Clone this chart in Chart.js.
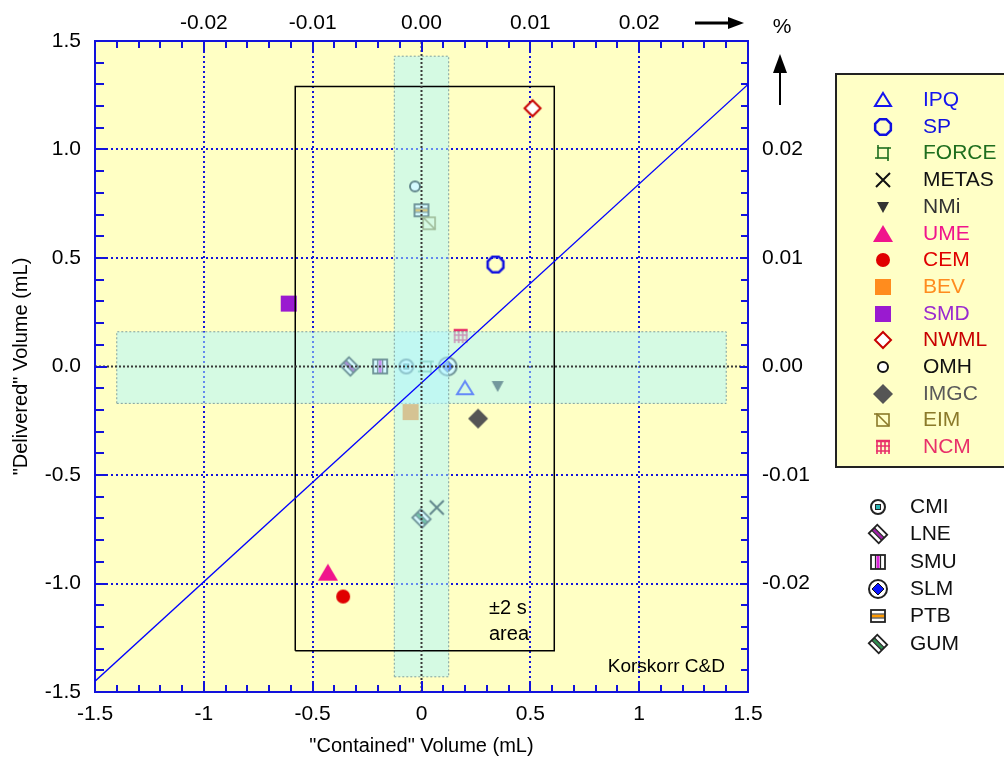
<!DOCTYPE html>
<html>
<head>
<meta charset="utf-8">
<title>Contained vs delivered volume</title>
<script src="https://cdn.jsdelivr.net/npm/chart.js@4.4.1/dist/chart.umd.min.js"></script>
<style>
  html, body { margin: 0; padding: 0; background: #fff; overflow: hidden; }
  #wrap { position: relative; width: 1004px; height: 760px; overflow: hidden; }
  #legendBox { position: absolute; left: 835px; top: 73px; width: 220px; height: 395px;
               background: #ffffc6; border: 2px solid #222; box-sizing: border-box; }
  .item { position: absolute; height: 26px; line-height: 26px; white-space: nowrap;
          font: 21px "Liberation Sans", Arial, Helvetica, sans-serif; }
  .mark { position: absolute; }
</style>
</head>
<body>
<div id="wrap">
  <canvas id="volumeChart" width="1004" height="760"></canvas>
  <div id="legendBox"></div>
</div>
<script>
// Deviation of each laboratory from the reference value, in mL
const labs = ['IPQ', 'SP', 'FORCE', 'METAS', 'NMi', 'UME', 'CEM', 'BEV', 'SMD', 'NWML', 'OMH', 'IMGC', 'EIM', 'NCM',
              'CMI', 'LNE', 'SMU', 'SLM', 'PTB', 'GUM'];
const containedVol = [0.20, 0.34, 0.02, 0.07, 0.35, -0.43, -0.36, -0.05, -0.61, 0.51, -0.03, 0.26, 0.035, 0.18,
                      -0.07, -0.33, -0.19, 0.12, 0.00, 0.00];
const deliveredVol = [-0.10, 0.47, 0.00, -0.65, -0.09, -0.95, -1.06, -0.21, 0.29, 1.19, 0.83, -0.24, 0.66, 0.14,
                      0.00, 0.00, 0.00, 0.00, 0.72, -0.70];

// uncertainty bands, the ±2 s box and the fitted line (mL)
const bandContainedX = [-0.125, 0.125];
const bandContainedY = [-1.43, 1.43];
const bandDeliveredX = [-1.40, 1.40];
const bandDeliveredY = [-0.17, 0.16];
const boxX = [-0.58, 0.61];
const boxY = [-1.31, 1.29];
const fitX = [-1.5, 1.5];
const fitY = [-1.45, 1.30];

// axis ticks: mL on bottom/left, percent of the 5 L nominal volume on top/right
const nominalVolume = 5000;
const mlTicks = [-1.5, -1, -0.5, 0, 0.5, 1, 1.5];
const pctTicks = [-0.02, -0.01, 0, 0.01, 0.02];

const FONT = '"Liberation Sans", Arial, Helvetica, sans-serif';
const axisBlue = '#1212dc';
const pctRange = 1.5 / nominalVolume * 100;

Chart.defaults.font.family = FONT;
Chart.defaults.font.size = 21;
Chart.defaults.color = '#000';

const near = (a, b) => Math.abs(a - b) < 1e-7;
const onStep = (v, step) => Math.abs(v / step - Math.round(v / step)) < 1e-6;
const inList = (list, v) => list.some(t => near(t, v));

// ---- marker glyphs ----
function path(g, pts) {
  g.beginPath();
  pts.forEach((p, i) => i ? g.lineTo(p[0], p[1]) : g.moveTo(p[0], p[1]));
  g.closePath();
}
function striped(g, stripe) {
  g.save();
  g.rotate(Math.PI / 4);
  g.fillStyle = '#fff';
  g.fillRect(-7, -6, 14, 12);
  g.fillStyle = stripe;
  g.fillRect(-7, -1.5, 14, 3);
  g.strokeStyle = '#222';
  g.lineWidth = 1.2;
  g.beginPath(); g.moveTo(-7, -1.8); g.lineTo(7, -1.8); g.moveTo(-7, 1.8); g.lineTo(7, 1.8); g.stroke();
  g.lineWidth = 1.8;
  g.strokeRect(-7, -6, 14, 12);
  g.restore();
}
const glyphs = {
  IPQ: g => { path(g, [[0, -7], [8, 6], [-8, 6]]); g.lineWidth = 2; g.strokeStyle = '#1414f0'; g.stroke(); },
  SP: g => {
    const pts = [];
    for (let k = 0; k < 8; k++) { const t = Math.PI / 8 + k * Math.PI / 4; pts.push([8.5 * Math.cos(t), 8.5 * Math.sin(t)]); }
    path(g, pts); g.lineWidth = 2.5; g.strokeStyle = '#1010e0'; g.stroke();
  },
  FORCE: g => {
    g.strokeStyle = '#1e6e1e'; g.lineWidth = 1.6;
    g.strokeRect(-5, -5, 10, 10);
    g.beginPath(); g.moveTo(-5, -5); g.lineTo(-5, -8); g.moveTo(5, -5); g.lineTo(8, -5);
    g.moveTo(5, 5); g.lineTo(5, 8); g.moveTo(-5, 5); g.lineTo(-8, 5); g.stroke();
  },
  METAS: g => {
    g.strokeStyle = '#111'; g.lineWidth = 2;
    g.beginPath(); g.moveTo(-7, -7); g.lineTo(7, 7); g.moveTo(-7, 7); g.lineTo(7, -7); g.stroke();
  },
  NMi: g => { path(g, [[-6, -5], [6, -5], [0, 6]]); g.fillStyle = '#333'; g.fill(); },
  UME: g => { path(g, [[0, -9], [10, 8], [-10, 8]]); g.fillStyle = '#f0148c'; g.fill(); },
  CEM: g => { g.beginPath(); g.arc(0, 0, 7, 0, Math.PI * 2); g.fillStyle = '#e00000'; g.fill(); },
  BEV: g => { g.fillStyle = '#ff8c1e'; g.fillRect(-8, -8, 16, 16); },
  SMD: g => { g.fillStyle = '#9a1ad0'; g.fillRect(-8, -8, 16, 16); },
  NWML: g => {
    path(g, [[0, -8], [8, 0], [0, 8], [-8, 0]]);
    g.fillStyle = '#fff'; g.fill(); g.lineWidth = 2; g.strokeStyle = '#c80000'; g.stroke();
  },
  OMH: g => {
    g.beginPath(); g.arc(0, 0, 5, 0, Math.PI * 2);
    g.fillStyle = '#fff'; g.fill(); g.lineWidth = 2; g.strokeStyle = '#111'; g.stroke();
  },
  IMGC: g => { path(g, [[0, -10], [10, 0], [0, 10], [-10, 0]]); g.fillStyle = '#555'; g.fill(); },
  EIM: g => {
    g.strokeStyle = '#8b7a2a'; g.lineWidth = 1.6;
    g.strokeRect(-6, -6, 12, 12);
    g.beginPath(); g.moveTo(-6, -6); g.lineTo(6, 6); g.moveTo(-6, -6); g.lineTo(-9, -6); g.stroke();
  },
  NCM: g => {
    g.strokeStyle = '#e8306a'; g.lineWidth = 1.6;
    g.beginPath();
    [-6, -2, 2, 6].forEach(v => { g.moveTo(v, -6); g.lineTo(v, 7); });
    [-6, -1, 4].forEach(v => { g.moveTo(-7, v); g.lineTo(7, v); });
    g.stroke();
    g.lineWidth = 2.5; g.beginPath(); g.moveTo(-7, -6); g.lineTo(7, -6); g.stroke();
  },
  CMI: g => {
    g.beginPath(); g.arc(0, 0, 7, 0, Math.PI * 2);
    g.fillStyle = '#fff'; g.fill(); g.lineWidth = 2; g.strokeStyle = '#222'; g.stroke();
    g.fillStyle = '#2ab4b4'; g.fillRect(-2.5, -2.5, 5, 5);
    g.lineWidth = 1; g.strokeRect(-2.5, -2.5, 5, 5);
  },
  LNE: g => striped(g, '#a020a8'),
  SMU: g => {
    g.fillStyle = '#fff'; g.fillRect(-7, -7, 14, 14);
    g.fillStyle = '#dd22dd'; g.fillRect(-1.5, -7, 3, 14);
    g.strokeStyle = '#222'; g.lineWidth = 1.2;
    g.beginPath(); g.moveTo(-2.5, -7); g.lineTo(-2.5, 7); g.moveTo(2.5, -7); g.lineTo(2.5, 7); g.stroke();
    g.lineWidth = 1.8; g.strokeRect(-7, -7, 14, 14);
  },
  SLM: g => {
    g.beginPath(); g.arc(0, 0, 9, 0, Math.PI * 2);
    g.fillStyle = '#fff'; g.fill(); g.lineWidth = 2; g.strokeStyle = '#222'; g.stroke();
    path(g, [[0, -6], [6, 0], [0, 6], [-6, 0]]);
    g.fillStyle = '#0a14ff'; g.fill(); g.lineWidth = 1; g.strokeStyle = '#111'; g.stroke();
  },
  PTB: g => {
    g.fillStyle = '#fff'; g.fillRect(-7, -6, 14, 12);
    g.fillStyle = '#ff9900'; g.fillRect(-7, -1.5, 14, 3);
    g.strokeStyle = '#222'; g.lineWidth = 1.2;
    g.beginPath(); g.moveTo(-7, -2); g.lineTo(7, -2); g.moveTo(-7, 2); g.lineTo(7, 2); g.stroke();
    g.lineWidth = 1.8; g.strokeRect(-7, -6, 14, 12);
  },
  GUM: g => striped(g, '#2f8f4f')
};
const textColours = {
  IPQ: '#1414f0', SP: '#1010e0', FORCE: '#1e6e1e', METAS: '#111', NMi: '#333', UME: '#f0148c',
  CEM: '#e00000', BEV: '#ff8c1e', SMD: '#9a2ad0', NWML: '#c80000', OMH: '#111', IMGC: '#5a5a5a',
  EIM: '#8b7a2a', NCM: '#e8306a'
};

function makeMarker(draw) {
  const c = document.createElement('canvas');
  c.width = 28; c.height = 28;
  const g = c.getContext('2d');
  g.translate(14, 14);
  draw(g);
  return c;
}
const markers = labs.map(name => makeMarker(glyphs[name]));

// ---- datasets ----
const rectPoints = (xs, ys) => [
  {x: xs[0], y: ys[0]}, {x: xs[1], y: ys[0]}, {x: xs[1], y: ys[1]}, {x: xs[0], y: ys[1]}, {x: xs[0], y: ys[0]}
];
const refLine = (data, colour, width, dash) => ({
  data, showLine: true, pointRadius: 0, borderColor: colour, borderWidth: width,
  borderDash: dash || [], fill: false
});
const band = (xs, ys) => ({
  data: rectPoints(xs, ys), showLine: true, pointRadius: 0, fill: 'shape',
  backgroundColor: 'rgba(175, 246, 255, 0.52)', borderColor: '#7f9f9f', borderWidth: 1, borderDash: [2, 2]
});

// the first dataset is painted last, so overlays come first
const datasets = [
  refLine([{x: -1.5, y: 0}, {x: 1.5, y: 0}], '#3a3a3a', 2, [2, 2]),
  refLine([{x: 0, y: -1.5}, {x: 0, y: 1.5}], '#3a3a3a', 2, [2, 2]),
  refLine(fitX.map((v, i) => ({x: v, y: fitY[i]})), '#0000ff', 1.3),
  refLine(rectPoints(boxX, boxY), '#000', 1.5),
  band(bandContainedX, bandContainedY),
  band(bandDeliveredX, bandDeliveredY)
];
labs.forEach((name, i) => {
  datasets.push({
    label: name,
    data: [{x: containedVol[i], y: deliveredVol[i]}],
    pointStyle: markers[i],
    pointRadius: 8
  });
});

// ---- plugins ----
const plotBackground = {
  id: 'plotBackground',
  beforeDraw(chart) {
    const {ctx, chartArea: a} = chart;
    ctx.save();
    ctx.fillStyle = '#ffffc4';
    ctx.fillRect(a.left, a.top, a.width, a.height);
    ctx.restore();
  }
};

// tick marks point into the plot
const inwardTicks = {
  id: 'inwardTicks',
  afterDraw(chart) {
    const {ctx, chartArea: a, scales} = chart;
    ctx.save();
    ctx.strokeStyle = axisBlue;
    ctx.lineWidth = 2;
    const mark = (scale, majorStep, minorLen, majorLen) => {
      scale.ticks.forEach(t => {
        const p = Math.round(scale.getPixelForValue(t.value));
        const len = onStep(t.value, majorStep) ? majorLen : minorLen;
        ctx.beginPath();
        if (scale.position === 'bottom') { ctx.moveTo(p, a.bottom); ctx.lineTo(p, a.bottom - len); }
        if (scale.position === 'top') { ctx.moveTo(p, a.top); ctx.lineTo(p, a.top + len); }
        if (scale.position === 'left') { ctx.moveTo(a.left, p); ctx.lineTo(a.left + len, p); }
        if (scale.position === 'right') { ctx.moveTo(a.right, p); ctx.lineTo(a.right - len, p); }
        ctx.stroke();
      });
    };
    mark(scales.x, 0.5, 7, 11);
    mark(scales.y, 0.5, 9, 12);
    mark(scales.x2, 0.01, 7, 11);
    mark(scales.y2, 0.01, 7, 8);
    ctx.restore();
  }
};

const notes = {
  id: 'notes',
  afterDatasetsDraw(chart) {
    const {ctx, scales: {x, y}} = chart;
    ctx.save();
    ctx.fillStyle = '#000';
    ctx.textBaseline = 'middle';
    ctx.textAlign = 'left';
    ctx.font = '20px ' + FONT;
    ctx.fillText('±2 s', x.getPixelForValue(0.31), y.getPixelForValue(-1.113));
    ctx.fillText('area', x.getPixelForValue(0.31), y.getPixelForValue(-1.237));
    ctx.textAlign = 'right';
    ctx.font = '19px ' + FONT;
    ctx.fillText('Korskorr C&D', x.getPixelForValue(1.394), y.getPixelForValue(-1.385));
    ctx.restore();
  }
};

// arrows and % sign for the secondary axes
const unitArrows = {
  id: 'unitArrows',
  afterDraw(chart) {
    const {ctx, chartArea: a} = chart;
    ctx.save();
    ctx.fillStyle = ctx.strokeStyle = '#000';
    const ay = 23;
    ctx.lineWidth = 3;
    ctx.beginPath(); ctx.moveTo(a.right - 53, ay); ctx.lineTo(a.right - 18, ay); ctx.stroke();
    ctx.beginPath(); ctx.moveTo(a.right - 4, ay); ctx.lineTo(a.right - 20, ay - 6); ctx.lineTo(a.right - 20, ay + 6);
    ctx.closePath(); ctx.fill();
    const ax = a.right + 32;
    ctx.lineWidth = 2;
    ctx.beginPath(); ctx.moveTo(ax, a.top + 64); ctx.lineTo(ax, a.top + 30); ctx.stroke();
    ctx.beginPath(); ctx.moveTo(ax, a.top + 13); ctx.lineTo(ax - 7, a.top + 32); ctx.lineTo(ax + 7, a.top + 32);
    ctx.closePath(); ctx.fill();
    ctx.font = '21px ' + FONT;
    ctx.textAlign = 'center';
    ctx.textBaseline = 'middle';
    ctx.fillText('%', a.right + 34, 27);
    ctx.restore();
  }
};

function mlGrid(c) {
  const v = c.tick.value;
  return inList(mlTicks, v) && !near(v, 0) && Math.abs(v) < 1.49 ? axisBlue : 'rgba(0,0,0,0)';
}

new Chart(document.getElementById('volumeChart'), {
  type: 'scatter',
  data: {datasets},
  options: {
    responsive: false,
    animation: false,
    layout: {padding: {right: 156}},
    plugins: {legend: {display: false}, tooltip: {enabled: false}},
    scales: {
      x: {
        type: 'linear', position: 'bottom', min: -1.5, max: 1.5,
        afterFit: s => { s.height = 68; },
        ticks: {stepSize: 0.1, autoSkip: false, maxRotation: 0, padding: 10,
                callback: v => inList(mlTicks, v) ? String(Math.round(v * 10) / 10) : ''},
        grid: {drawTicks: false, lineWidth: 2, color: mlGrid},
        border: {color: axisBlue, width: 2, dash: [2, 3]},
        title: {display: true, text: '"Contained" Volume (mL)', font: {size: 20}, padding: {top: 0, bottom: 2}}
      },
      y: {
        type: 'linear', position: 'left', min: -1.5, max: 1.5,
        afterFit: s => { s.width = 95; },
        ticks: {stepSize: 0.1, autoSkip: false, padding: 14,
                callback: v => inList(mlTicks, v) ? v.toFixed(1) : ''},
        grid: {drawTicks: false, lineWidth: 2, color: mlGrid},
        border: {color: axisBlue, width: 2, dash: [2, 3]},
        title: {display: true, text: '"Delivered" Volume (mL)', font: {size: 20}, padding: {top: 9, bottom: 0}}
      },
      x2: {
        type: 'linear', position: 'top', min: -pctRange, max: pctRange,
        afterFit: s => { s.height = 41; },
        ticks: {stepSize: 0.002, autoSkip: false, maxRotation: 0, padding: 5,
                callback: v => inList(pctTicks, v) ? v.toFixed(2) : ''},
        grid: {display: false, drawTicks: false},
        border: {color: axisBlue, width: 2}
      },
      y2: {
        type: 'linear', position: 'right', min: -pctRange, max: pctRange,
        afterFit: s => { s.width = 100; },
        ticks: {stepSize: 0.002, autoSkip: false, padding: 14,
                callback: v => inList(pctTicks, v) ? v.toFixed(2) : ''},
        grid: {display: false, drawTicks: false},
        border: {color: axisBlue, width: 2}
      }
    }
  },
  plugins: [plotBackground, inwardTicks, notes, unitArrows]
});

// ---- legend ----
const wrap = document.getElementById('wrap');
function legendItem(i, markX, textX, y) {
  const name = labs[i];
  const img = document.createElement('img');
  img.className = 'mark';
  img.src = markers[i].toDataURL();
  img.style.left = (markX - 14) + 'px';
  img.style.top = (y - 14) + 'px';
  wrap.appendChild(img);
  const t = document.createElement('div');
  t.className = 'item';
  t.textContent = name;
  t.style.left = textX + 'px';
  t.style.top = (y - 13) + 'px';
  t.style.color = textColours[name] || '#111';
  wrap.appendChild(t);
}
labs.forEach((name, i) => {
  if (i < 14) legendItem(i, 883, 923, 100 + i * 26.7);
  else legendItem(i, 878, 910, 507 + (i - 14) * 27.3);
});
</script>
</body>
</html>
